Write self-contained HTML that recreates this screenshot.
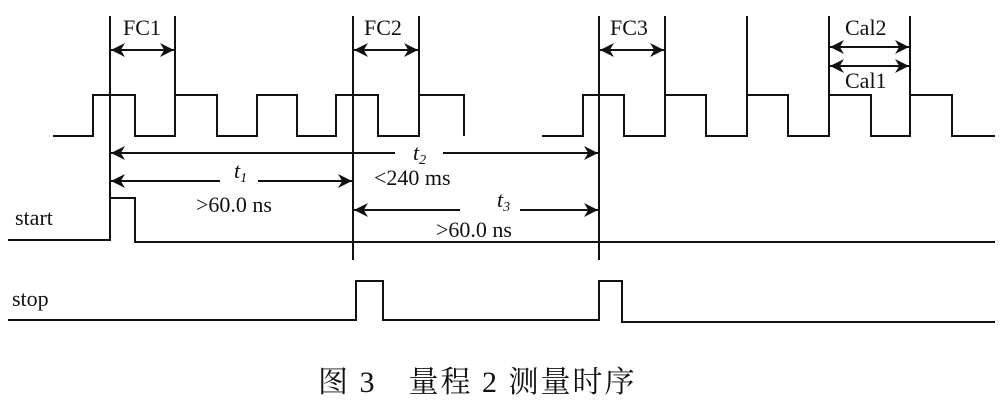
<!DOCTYPE html>
<html><head><meta charset="utf-8"><style>
body{margin:0;background:#fff;width:1006px;height:406px;overflow:hidden}
text{font-family:"Liberation Serif","Noto Serif CJK SC",serif;fill:#111}
</style></head><body>
<svg width="1006" height="406" viewBox="0 0 1006 406">
<defs><marker id="a" viewBox="0 0 10 10" refX="10" refY="5" markerWidth="16" markerHeight="14" orient="auto-start-reverse" markerUnits="userSpaceOnUse"><path d="M0,0 L10,5 L0,10 L3,5Z" fill="#111"/></marker></defs>
<g stroke="#111" stroke-width="2" fill="none">
<path d="M53,136 H93 V95 H135 V136 H175 V95 H217 V136 H257 V95 H297 V136 H336 V95 H378 V136 H419 V95 H464 V136"/>
<path d="M542,136 H583 V95 H624 V136 H665 V95 H706 V136 H747 V95 H788 V136 H829 V95 H871 V136 H910 V95 H952 V136 H995"/>
<path d="M8,240 H110 V198 H135 V242 H995"/>
<path d="M8,320 H266 H356 V281 H383 V320 H599 V281 H622 V322 H995"/>
<path d="M110,16 V241 M175,16 V136 M353,16 V260 M419,16 V136 M599,16 V260 M665,16 V136 M747,16 V136 M829,16 V136 M910,16 V136"/>
</g>
<g stroke="#111" stroke-width="2" marker-start="url(#a)" marker-end="url(#a)">
<line x1="111" y1="50" x2="174" y2="50"/>
<line x1="354" y1="50" x2="418" y2="50"/>
<line x1="600" y1="50" x2="664" y2="50"/>
<line x1="830" y1="47" x2="909" y2="47"/>
<line x1="830" y1="66" x2="909" y2="66"/>
</g>
<g stroke="#111" stroke-width="2">
<line x1="111" y1="153" x2="395" y2="153" marker-start="url(#a)"/>
<line x1="443" y1="153" x2="598" y2="153" marker-end="url(#a)"/>
<line x1="111" y1="181" x2="220" y2="181" marker-start="url(#a)"/>
<line x1="258" y1="181" x2="352" y2="181" marker-end="url(#a)"/>
<line x1="354" y1="210" x2="460" y2="210" marker-start="url(#a)"/>
<line x1="520" y1="210" x2="598" y2="210" marker-end="url(#a)"/>
</g>
<g font-size="22">
<text x="123" y="35">FC1</text>
<text x="364" y="35">FC2</text>
<text x="610" y="35">FC3</text>
<text x="845" y="35">Cal2</text>
<text x="845" y="88">Cal1</text>
<text x="413" y="160" font-style="italic">t<tspan font-size="14" dy="4">2</tspan></text>
<text x="374" y="185">&lt;240 ms</text>
<text x="234" y="178" font-style="italic">t<tspan font-size="14" dy="4">1</tspan></text>
<text x="196" y="212">&gt;60.0 ns</text>
<text x="497" y="207" font-style="italic">t<tspan font-size="14" dy="4">3</tspan></text>
<text x="436" y="237">&gt;60.0 ns</text>
<text x="15" y="225">start</text>
<text x="12" y="306">stop</text>
</g>
<text x="318" y="392" font-size="30" letter-spacing="2">图 3　量程 2 测量时序</text>
</svg>
</body></html>
